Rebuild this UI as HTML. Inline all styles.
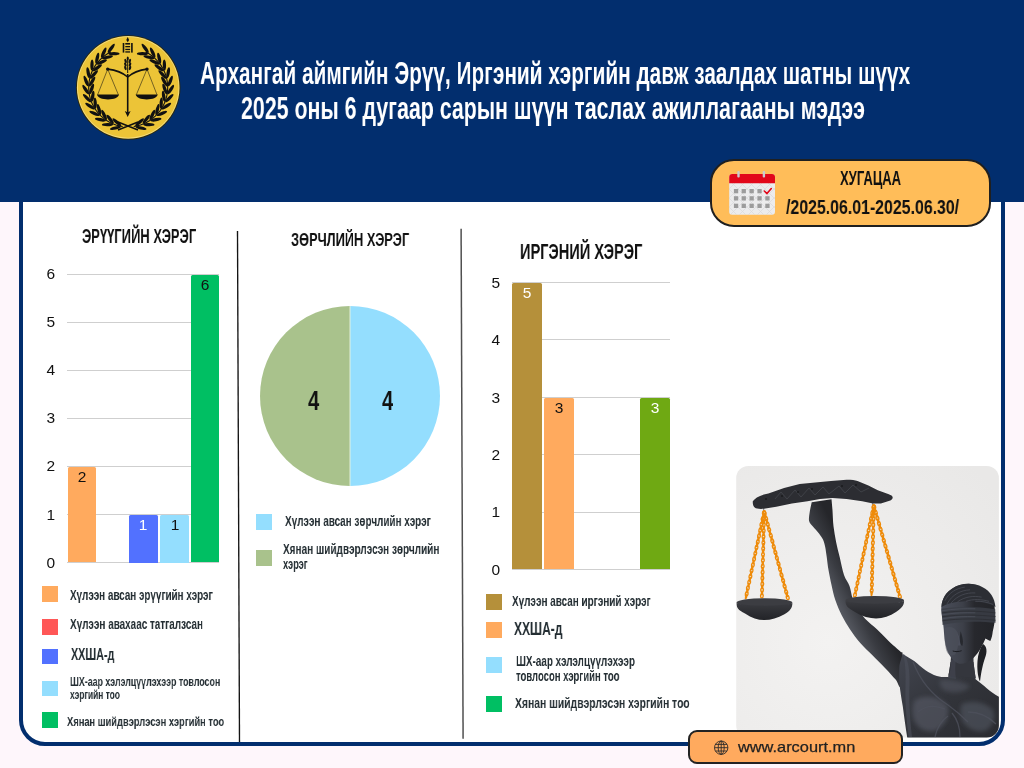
<!DOCTYPE html>
<html lang="mn">
<head>
<meta charset="utf-8">
<title>Архангай аймгийн Эрүү, Иргэний хэргийн давж заалдах шатны шүүх</title>
<style>
*{margin:0;padding:0;box-sizing:border-box}
html,body{width:1024px;height:768px;overflow:hidden}
body{position:relative;background:#fef6fb;font-family:"Liberation Sans",Arial,sans-serif;color:#2f3a40}
.a{position:absolute}
.t{position:absolute;white-space:nowrap;line-height:1;transform-origin:0 0;will-change:transform}
#panel{left:19.3px;top:150px;width:985.8px;height:595.8px;background:#fff;border:4px solid #022e6e;border-radius:26px}
#header{left:0;top:0;width:1024px;height:201.7px;background:#022e6e}
.title{color:#fff;font-size:32px;font-weight:bold}
.grid{position:absolute;height:1px;background:#cfcfcf}
.bar{position:absolute;border-radius:1.5px 1.5px 0 0}
.ax{position:absolute;font-size:15.5px;line-height:1;color:#111;text-align:right;width:20px;will-change:transform}
.bl{position:absolute;font-size:15.5px;line-height:1;text-align:center;width:30px;will-change:transform}
.sq{position:absolute;width:16px;height:16px}
.ct{font-weight:bold;color:#111}
.lg{color:#232d32;font-weight:bold}
</style>
</head>
<body>
<div id="panel" class="a"></div>
<div id="header" class="a"></div>

<!-- logo -->
<svg class="a" style="left:74px;top:33px" width="110" height="110" viewBox="74 33 110 110">
  <circle cx="128.2" cy="87.4" r="52.2" fill="#2e2806"/>
  <circle cx="128.2" cy="87.4" r="51.3" fill="#f3dc7c"/>
  <circle cx="128.2" cy="87.4" r="50.3" fill="#ecc437"/>
  <g fill="none" stroke="#111" stroke-width="1.1">
    <path d="M122.70 126.52 L119.29 125.88 L115.95 124.95 L112.70 123.73 L109.57 122.23 L106.59 120.46 L103.77 118.44 L101.14 116.17 L98.72 113.69 L96.53 111.00 L94.58 108.13 L92.89 105.10 L91.47 101.93 L90.34 98.65 L89.50 95.29 L88.95 91.86 L88.71 88.40 L88.78 84.93 L89.15 81.48 L89.82 78.07 L90.78 74.74 L92.04 71.51 L93.57 68.40 L95.37 65.43 L97.43 62.63 L99.72 60.03 L102.23 57.64 L104.94 55.47 L107.84 53.55 L110.88 51.90"/>
    <path d="M133.70 126.52 L137.11 125.88 L140.45 124.95 L143.70 123.73 L146.83 122.23 L149.81 120.46 L152.63 118.44 L155.26 116.17 L157.68 113.69 L159.87 111.00 L161.82 108.13 L163.51 105.10 L164.93 101.93 L166.06 98.65 L166.90 95.29 L167.45 91.86 L167.69 88.40 L167.62 84.93 L167.25 81.48 L166.58 78.07 L165.62 74.74 L164.36 71.51 L162.83 68.40 L161.03 65.43 L158.97 62.63 L156.68 60.03 L154.17 57.64 L151.46 55.47 L148.56 53.55 L145.52 51.90"/>
  </g>
  <g fill="#111">
    <ellipse cx="116.85" cy="122.19" rx="5.6" ry="1.65" transform="rotate(-139.4 116.85 122.19)"/><ellipse cx="115.40" cy="128.01" rx="5.6" ry="1.65" transform="rotate(167.4 115.40 128.01)"/><ellipse cx="110.09" cy="119.20" rx="5.6" ry="1.65" transform="rotate(-127.9 110.09 119.20)"/><ellipse cx="107.50" cy="124.61" rx="5.6" ry="1.65" transform="rotate(179.0 107.50 124.61)"/><ellipse cx="104.08" cy="114.92" rx="5.6" ry="1.65" transform="rotate(-116.3 104.08 114.92)"/><ellipse cx="100.45" cy="119.70" rx="5.6" ry="1.65" transform="rotate(-169.4 100.45 119.70)"/><ellipse cx="99.04" cy="109.51" rx="5.6" ry="1.65" transform="rotate(-104.7 99.04 109.51)"/><ellipse cx="94.53" cy="113.47" rx="5.6" ry="1.65" transform="rotate(-157.8 94.53 113.47)"/><ellipse cx="95.20" cy="103.21" rx="5.6" ry="1.65" transform="rotate(-93.1 95.20 103.21)"/><ellipse cx="89.98" cy="106.18" rx="5.6" ry="1.65" transform="rotate(-146.2 89.98 106.18)"/><ellipse cx="92.70" cy="96.26" rx="5.6" ry="1.65" transform="rotate(-81.5 92.70 96.26)"/><ellipse cx="86.99" cy="98.12" rx="5.6" ry="1.65" transform="rotate(-134.6 86.99 98.12)"/><ellipse cx="91.64" cy="88.95" rx="5.6" ry="1.65" transform="rotate(-69.9 91.64 88.95)"/><ellipse cx="85.68" cy="89.63" rx="5.6" ry="1.65" transform="rotate(-123.1 85.68 89.63)"/><ellipse cx="92.07" cy="81.58" rx="5.6" ry="1.65" transform="rotate(-58.4 92.07 81.58)"/><ellipse cx="86.10" cy="81.04" rx="5.6" ry="1.65" transform="rotate(-111.5 86.10 81.04)"/><ellipse cx="93.98" cy="74.44" rx="5.6" ry="1.65" transform="rotate(-46.8 93.98 74.44)"/><ellipse cx="88.23" cy="72.72" rx="5.6" ry="1.65" transform="rotate(-99.9 88.23 72.72)"/><ellipse cx="97.28" cy="67.83" rx="5.6" ry="1.65" transform="rotate(-35.2 97.28 67.83)"/><ellipse cx="91.99" cy="64.99" rx="5.6" ry="1.65" transform="rotate(-88.3 91.99 64.99)"/><ellipse cx="101.84" cy="62.02" rx="5.6" ry="1.65" transform="rotate(-23.6 101.84 62.02)"/><ellipse cx="97.23" cy="58.18" rx="5.6" ry="1.65" transform="rotate(-76.7 97.23 58.18)"/><ellipse cx="107.47" cy="57.25" rx="5.6" ry="1.65" transform="rotate(-12.0 107.47 57.25)"/><ellipse cx="103.73" cy="52.56" rx="5.6" ry="1.65" transform="rotate(-65.1 103.73 52.56)"/><ellipse cx="113.95" cy="53.70" rx="5.6" ry="1.65" transform="rotate(-0.4 113.95 53.70)"/><ellipse cx="111.22" cy="48.35" rx="5.6" ry="1.65" transform="rotate(-53.6 111.22 48.35)"/><ellipse cx="139.55" cy="122.19" rx="5.6" ry="1.65" transform="rotate(-40.6 139.55 122.19)"/><ellipse cx="141.00" cy="128.01" rx="5.6" ry="1.65" transform="rotate(12.6 141.00 128.01)"/><ellipse cx="146.31" cy="119.20" rx="5.6" ry="1.65" transform="rotate(-52.1 146.31 119.20)"/><ellipse cx="148.90" cy="124.61" rx="5.6" ry="1.65" transform="rotate(1.0 148.90 124.61)"/><ellipse cx="152.32" cy="114.92" rx="5.6" ry="1.65" transform="rotate(-63.7 152.32 114.92)"/><ellipse cx="155.95" cy="119.70" rx="5.6" ry="1.65" transform="rotate(-10.6 155.95 119.70)"/><ellipse cx="157.36" cy="109.51" rx="5.6" ry="1.65" transform="rotate(-75.3 157.36 109.51)"/><ellipse cx="161.87" cy="113.47" rx="5.6" ry="1.65" transform="rotate(-22.2 161.87 113.47)"/><ellipse cx="161.20" cy="103.21" rx="5.6" ry="1.65" transform="rotate(-86.9 161.20 103.21)"/><ellipse cx="166.42" cy="106.18" rx="5.6" ry="1.65" transform="rotate(-33.8 166.42 106.18)"/><ellipse cx="163.70" cy="96.26" rx="5.6" ry="1.65" transform="rotate(-98.5 163.70 96.26)"/><ellipse cx="169.41" cy="98.12" rx="5.6" ry="1.65" transform="rotate(-45.4 169.41 98.12)"/><ellipse cx="164.76" cy="88.95" rx="5.6" ry="1.65" transform="rotate(-110.1 164.76 88.95)"/><ellipse cx="170.72" cy="89.63" rx="5.6" ry="1.65" transform="rotate(-56.9 170.72 89.63)"/><ellipse cx="164.33" cy="81.58" rx="5.6" ry="1.65" transform="rotate(-121.6 164.33 81.58)"/><ellipse cx="170.30" cy="81.04" rx="5.6" ry="1.65" transform="rotate(-68.5 170.30 81.04)"/><ellipse cx="162.42" cy="74.44" rx="5.6" ry="1.65" transform="rotate(-133.2 162.42 74.44)"/><ellipse cx="168.17" cy="72.72" rx="5.6" ry="1.65" transform="rotate(-80.1 168.17 72.72)"/><ellipse cx="159.12" cy="67.83" rx="5.6" ry="1.65" transform="rotate(-144.8 159.12 67.83)"/><ellipse cx="164.41" cy="64.99" rx="5.6" ry="1.65" transform="rotate(-91.7 164.41 64.99)"/><ellipse cx="154.56" cy="62.02" rx="5.6" ry="1.65" transform="rotate(-156.4 154.56 62.02)"/><ellipse cx="159.17" cy="58.18" rx="5.6" ry="1.65" transform="rotate(-103.3 159.17 58.18)"/><ellipse cx="148.93" cy="57.25" rx="5.6" ry="1.65" transform="rotate(-168.0 148.93 57.25)"/><ellipse cx="152.67" cy="52.56" rx="5.6" ry="1.65" transform="rotate(-114.9 152.67 52.56)"/><ellipse cx="142.45" cy="53.70" rx="5.6" ry="1.65" transform="rotate(-179.6 142.45 53.70)"/><ellipse cx="145.18" cy="48.35" rx="5.6" ry="1.65" transform="rotate(-126.4 145.18 48.35)"/>
  </g>
  <!-- crossing stems at bottom -->
  <path d="M118 130 L138 122 M138 130 L118 122" stroke="#111" stroke-width="1.6"/>
  <!-- soyombo -->
  <g fill="#111">
    <path d="M127.7 37 l1.4 3 l-1.4 2.2 l-1.4 -2.2 z"/>
    <rect x="125.3" y="43" width="4.8" height="1.6"/>
    <rect x="122.7" y="43" width="1.6" height="9.6"/>
    <rect x="131.1" y="43" width="1.6" height="9.6"/>
    <rect x="125.3" y="46" width="4.8" height="1.3"/>
    <rect x="125.3" y="48.8" width="4.8" height="1.3"/>
    <rect x="125.3" y="51.3" width="4.8" height="1.3"/>
  </g>
  <!-- wheat -->
  <g fill="#111">
    <path d="M127.7 57 L127.7 73" stroke="#111" stroke-width="1"/>
    <ellipse cx="125.6" cy="61" rx="1.1" ry="2.2" transform="rotate(-20 125.6 61)"/>
    <ellipse cx="129.8" cy="61" rx="1.1" ry="2.2" transform="rotate(20 129.8 61)"/>
    <ellipse cx="125.4" cy="64.5" rx="1.1" ry="2.2" transform="rotate(-20 125.4 64.5)"/>
    <ellipse cx="130" cy="64.5" rx="1.1" ry="2.2" transform="rotate(20 130 64.5)"/>
    <ellipse cx="125.4" cy="68" rx="1.1" ry="2.2" transform="rotate(-20 125.4 68)"/>
    <ellipse cx="130" cy="68" rx="1.1" ry="2.2" transform="rotate(20 130 68)"/>
    <ellipse cx="127.7" cy="58.6" rx="1" ry="2"/>
  </g>
  <!-- scales -->
  <g stroke="#111" fill="none">
    <path d="M107.7 69.1 C115 70 122 72 127.7 77 C133.4 72 140 70 147 69.1" stroke-width="1.6"/>
    <path d="M127.7 74 L127.7 113" stroke-width="1.6"/>
    <path d="M107.7 69.1 L97.6 94.8 M107.7 69.1 L118.4 94.8 M147 69.1 L136.3 94.8 M147 69.1 L157 94.8" stroke-width="0.55"/>
  </g>
  <g fill="#111">
    <circle cx="107.7" cy="69.1" r="1.7"/>
    <circle cx="147" cy="69.1" r="1.7"/>
    <path d="M124.8 111 L127.7 117 L130.6 111 L127.7 112.5 Z"/>
    <path d="M97 94.6 L119 94.6 C118 98 114 99.4 108 99.4 C102 99.4 98 98 97 94.6 Z"/>
    <path d="M135.7 94.6 L157.7 94.6 C156.7 98 152.7 99.4 146.7 99.4 C140.7 99.4 136.7 98 135.7 94.6 Z"/>
  </g>
</svg>

<div class="t title" id="t1" style="left:200.10px;top:56.60px;font-size:32.12px;transform:scaleX(0.6480)">Архангай аймгийн Эрүү, Иргэний хэргийн давж заалдах шатны шүүх</div>
<div class="t title" id="t2" style="left:241.43px;top:92.14px;font-size:32.07px;transform:scaleX(0.6663)">2025 оны 6 дугаар сарын шүүн таслах ажиллагааны мэдээ</div>

<!-- period pill -->
<div class="a" style="left:710.3px;top:159.2px;width:281px;height:67.4px;background:#ffbd59;border:2.2px solid #1f1f1f;border-radius:24px"></div>

<!-- calendar icon -->
<svg class="a" style="left:728px;top:170px" width="49" height="47" viewBox="728 170 49 47">
  <defs>
    <pattern id="diam" x="0" y="0" width="9" height="9" patternUnits="userSpaceOnUse">
      <path d="M0 0 L9 9 M9 0 L0 9" stroke="#d6d6d8" stroke-width="0.6"/>
    </pattern>
  </defs>
  <rect x="729.2" y="174" width="45.8" height="40.8" rx="3" fill="#ececed"/>
  <rect x="729.2" y="174" width="45.8" height="40.8" rx="3" fill="url(#diam)"/>
  <path d="M729.2 183.3 V177 a3 3 0 0 1 3 -3 H772 a3 3 0 0 1 3 3 V183.3 Z" fill="#e2071a"/>
  <rect x="737.3" y="171" width="2.4" height="6.5" rx="1" fill="#c9cbcf"/>
  <rect x="762.7" y="171" width="2.4" height="6.5" rx="1" fill="#c9cbcf"/>
  <g fill="#9c9c9c">
    <rect x="733.9" y="189" width="4.3" height="4.3"/><rect x="741.6" y="189" width="4.3" height="4.3"/><rect x="749.5" y="189" width="4.3" height="4.3"/><rect x="757.4" y="189" width="4.3" height="4.3"/>
    <rect x="733.9" y="196.2" width="4.3" height="4.3"/><rect x="741.6" y="196.2" width="4.3" height="4.3"/><rect x="749.5" y="196.2" width="4.3" height="4.3"/><rect x="757.4" y="196.2" width="4.3" height="4.3"/><rect x="765.3" y="196.2" width="4.3" height="4.3"/>
    <rect x="733.9" y="203.7" width="4.3" height="4.3"/><rect x="741.6" y="203.7" width="4.3" height="4.3"/><rect x="749.5" y="203.7" width="4.3" height="4.3"/><rect x="757.4" y="203.7" width="4.3" height="4.3"/><rect x="765.3" y="203.7" width="4.3" height="4.3"/>
  </g>
  <path d="M764.3 191 L767 193.6 L771.3 188.6" fill="none" stroke="#e2071a" stroke-width="1.6" stroke-linecap="round" stroke-linejoin="round"/>
</svg>
<div class="t ct" id="t6" style="left:840.40px;top:168.32px;font-size:20.76px;transform:scaleX(0.6278)">ХУГАЦАА</div>
<div class="t ct" id="t7" style="left:786.30px;top:197.33px;font-size:20.63px;transform:scaleX(0.7701)">/2025.06.01-2025.06.30/</div>

<!-- dividers -->
<svg class="a" style="left:0;top:0" width="1024" height="768" viewBox="0 0 1024 768">
  <line x1="237.5" y1="231" x2="239.5" y2="742" stroke="#141414" stroke-width="1.35"/>
  <line x1="461.1" y1="228.8" x2="463.1" y2="738.8" stroke="#505050" stroke-width="1.5"/>
</svg>

<!-- chart titles -->
<div class="t ct" id="t3" style="left:82.20px;top:227.19px;font-size:19.50px;transform:scaleX(0.6653)">ЭРҮҮГИЙН ХЭРЭГ</div>
<div class="t ct" id="t4" style="left:290.90px;top:230.43px;font-size:19.22px;transform:scaleX(0.6683)">ЗӨРЧЛИЙН ХЭРЭГ</div>
<div class="t ct" id="t5" style="left:520.24px;top:240.94px;font-size:22.16px;transform:scaleX(0.6575)">ИРГЭНИЙ ХЭРЭГ</div>


<!-- charts -->
<div class="grid" style="left:67.4px;top:273.9px;width:152.1px"></div>
<div class="ax" style="left:34.6px;top:266.44px">6</div>
<div class="grid" style="left:67.4px;top:321.9px;width:152.1px"></div>
<div class="ax" style="left:34.6px;top:314.44px">5</div>
<div class="grid" style="left:67.4px;top:369.9px;width:152.1px"></div>
<div class="ax" style="left:34.6px;top:362.44px">4</div>
<div class="grid" style="left:67.4px;top:417.9px;width:152.1px"></div>
<div class="ax" style="left:34.6px;top:410.44px">3</div>
<div class="grid" style="left:67.4px;top:465.9px;width:152.1px"></div>
<div class="ax" style="left:34.6px;top:458.44px">2</div>
<div class="grid" style="left:67.4px;top:514.0px;width:152.1px"></div>
<div class="ax" style="left:34.6px;top:506.54px">1</div>
<div class="grid" style="left:67.4px;top:562.0px;width:152.1px"></div>
<div class="ax" style="left:34.6px;top:554.54px">0</div>
<div class="bar" style="left:67.5px;top:466.6px;width:28.6px;height:95.9px;background:#ffaa5e"></div>
<div class="bl" style="left:66.8px;top:469.20px;color:#111">2</div>
<div class="bar" style="left:129.1px;top:514.5px;width:28.7px;height:48.0px;background:#5271ff"></div>
<div class="bl" style="left:128.4px;top:517.10px;color:#fff">1</div>
<div class="bar" style="left:160px;top:514.5px;width:29.0px;height:48.0px;background:#94defe"></div>
<div class="bl" style="left:159.5px;top:517.10px;color:#111">1</div>
<div class="bar" style="left:190.6px;top:274.6px;width:28.9px;height:287.9px;background:#00bf63"></div>
<div class="bl" style="left:190.1px;top:277.20px;color:#111">6</div>
<div class="grid" style="left:512px;top:282.1px;width:158.3px"></div>
<div class="ax" style="left:480px;top:274.80px">5</div>
<div class="grid" style="left:512px;top:339.4px;width:158.3px"></div>
<div class="ax" style="left:480px;top:332.10px">4</div>
<div class="grid" style="left:512px;top:396.8px;width:158.3px"></div>
<div class="ax" style="left:480px;top:389.50px">3</div>
<div class="grid" style="left:512px;top:454.1px;width:158.3px"></div>
<div class="ax" style="left:480px;top:446.80px">2</div>
<div class="grid" style="left:512px;top:511.5px;width:158.3px"></div>
<div class="ax" style="left:480px;top:504.20px">1</div>
<div class="grid" style="left:512px;top:568.8px;width:158.3px"></div>
<div class="ax" style="left:480px;top:561.50px">0</div>
<div class="bar" style="left:512.2px;top:282.6px;width:29.7px;height:286.7px;background:#b5903a"></div>
<div class="bl" style="left:512.0px;top:285.20px;color:#fff">5</div>
<div class="bar" style="left:544.2px;top:397.6px;width:29.7px;height:171.7px;background:#ffaa5e"></div>
<div class="bl" style="left:544.0px;top:400.20px;color:#111">3</div>
<div class="bar" style="left:640.4px;top:397.6px;width:29.9px;height:171.7px;background:#6fa913"></div>
<div class="bl" style="left:640.3px;top:400.20px;color:#fff">3</div>

<!-- pie -->
<svg class="a" style="left:258px;top:304px" width="184" height="184" viewBox="0 0 184 184">
  <path d="M92 2 A90 90 0 0 0 92 182 Z" fill="#a9c28c"/>
  <path d="M92 2 A90 90 0 0 1 92 182 Z" fill="#94defe"/>
  <path d="M92 2 V182" stroke="#e8f4e0" stroke-width="0.9"/>
</svg>
<div class="t ct" id="p1" style="left:307.60px;top:386.55px;font-size:27.22px;transform:scaleX(0.7467)">4</div>
<div class="t ct" id="p2" style="left:381.90px;top:386.55px;font-size:27.22px;transform:scaleX(0.7400)">4</div>

<!-- legends left -->
<div class="sq" style="left:42px;top:586px;width:15.5px;height:15.5px;background:#ffaa5e"></div>
<div class="sq" style="left:42px;top:619px;width:15.5px;height:15.5px;background:#ff5757"></div>
<div class="sq" style="left:42px;top:648.5px;width:15.5px;height:15.5px;background:#5271ff"></div>
<div class="sq" style="left:42px;top:680.7px;width:15.5px;height:15.5px;background:#94defe"></div>
<div class="sq" style="left:42px;top:712.3px;width:15.5px;height:15.5px;background:#00bf63"></div>
<div class="t lg" id="l1" style="left:69.60px;top:586.97px;font-size:15.15px;transform:scaleX(0.6508)">Хүлээн авсан эрүүгийн хэрэг</div>
<div class="t lg" id="l2" style="left:69.60px;top:617.01px;font-size:14.87px;transform:scaleX(0.6674)">Хүлээн авахаас татгалзсан</div>
<div class="t lg" id="l3" style="left:71.00px;top:646.02px;font-size:16.27px;transform:scaleX(0.6616)">ХХША-д</div>
<div class="t lg" id="l4a" style="left:70.00px;top:675.70px;font-size:12.69px;transform:scaleX(0.6966)">ШХ-аар хэлэлцүүлэхээр товлосон</div>
<div class="t lg" id="l4b" style="left:70.00px;top:688.95px;font-size:12.69px;transform:scaleX(0.6635)">хэргийн тоо</div>
<div class="t lg" id="l5" style="left:67.20px;top:715.22px;font-size:13.32px;transform:scaleX(0.7012)">Хянан шийдвэрлэсэн хэргийн тоо</div>

<!-- legends center -->
<div class="sq" style="left:255.7px;top:514.1px;background:#94defe"></div>
<div class="sq" style="left:255.7px;top:549.6px;background:#a9c28c"></div>
<div class="t lg" id="c1" style="left:284.90px;top:514.31px;font-size:14.87px;transform:scaleX(0.6681)">Хүлээн авсан зөрчлийн хэрэг</div>
<div class="t lg" id="c2a" style="left:282.90px;top:542.27px;font-size:14.80px;transform:scaleX(0.6751)">Хянан шийдвэрлэсэн зөрчлийн</div>
<div class="t lg" id="c2b" style="left:282.90px;top:556.67px;font-size:14.80px;transform:scaleX(0.6247)">хэрэг</div>

<!-- legends right -->
<div class="sq" style="left:486.1px;top:594.2px;background:#b5903a"></div>
<div class="sq" style="left:486.1px;top:622px;background:#ffaa5e"></div>
<div class="sq" style="left:486.1px;top:657.1px;background:#94defe"></div>
<div class="sq" style="left:486.1px;top:695.7px;background:#00bf63"></div>
<div class="t lg" id="r1" style="left:512.10px;top:594.25px;font-size:14.59px;transform:scaleX(0.6811)">Хүлээн авсан иргэний хэрэг</div>
<div class="t lg" id="r2" style="left:514.00px;top:620.86px;font-size:17.53px;transform:scaleX(0.6856)">ХХША-д</div>
<div class="t lg" id="r3a" style="left:515.90px;top:654.43px;font-size:14.73px;transform:scaleX(0.6713)">ШХ-аар хэлэлцүүлэхээр</div>
<div class="t lg" id="r3b" style="left:515.90px;top:669.43px;font-size:14.73px;transform:scaleX(0.6457)">товлосон хэргийн тоо</div>
<div class="t lg" id="r4" style="left:514.50px;top:696.03px;font-size:14.73px;transform:scaleX(0.7048)">Хянан шийдвэрлэсэн хэргийн тоо</div>


<!-- statue photo -->
<svg class="a" style="left:736px;top:466px" width="263" height="272" viewBox="736 466 263 272">
  <defs>
    <filter id="soft" x="-20%" y="-20%" width="140%" height="140%"><feGaussianBlur stdDeviation="2.2"/></filter>
    <clipPath id="pc"><rect x="736.2" y="466.1" width="262.7" height="271.4" rx="12" ry="12"/></clipPath>
    <radialGradient id="bgg" cx="0.35" cy="0.65" r="0.85">
      <stop offset="0" stop-color="#f3f2f1"/>
      <stop offset="1" stop-color="#e9e8e7"/>
    </radialGradient>
    <linearGradient id="armg" x1="0" y1="1" x2="1" y2="0">
      <stop offset="0.36" stop-color="#575a62"/>
      <stop offset="0.46" stop-color="#3a3c42"/>
      <stop offset="0.56" stop-color="#25262a"/>
    </linearGradient>
    <linearGradient id="pang" x1="0" y1="0" x2="0" y2="1">
      <stop offset="0" stop-color="#3a3b40"/>
      <stop offset="1" stop-color="#222327"/>
    </linearGradient>
    <linearGradient id="faceg" x1="0" y1="0" x2="1" y2="0">
      <stop offset="0" stop-color="#4a4e5a"/>
      <stop offset="0.4" stop-color="#3d4049"/>
      <stop offset="0.62" stop-color="#27282d"/>
      <stop offset="1" stop-color="#232428"/>
    </linearGradient>
    <linearGradient id="torg" x1="0" y1="0" x2="1" y2="1">
      <stop offset="0" stop-color="#42454f"/>
      <stop offset="0.5" stop-color="#32343a"/>
      <stop offset="1" stop-color="#2a2b30"/>
    </linearGradient>
  </defs>
  <g clip-path="url(#pc)">
    <rect x="736" y="466" width="263" height="272" fill="url(#bgg)"/>
    <!-- hooks -->
    <path d="M763.6 500 V512.5 M872.6 496 V507" stroke="#8d8f93" stroke-width="1.3" fill="none"/>
    <!-- chains -->
    <g fill="none" stroke="#ee8b0a" stroke-width="1.35">
      <ellipse cx="763.9" cy="512.9" rx="2.1" ry="1.35" transform="rotate(102 763.9 512.9)"/>
      <ellipse cx="763.3" cy="515.8" rx="2.0" ry="0.55" transform="rotate(102 763.3 515.8)"/>
      <ellipse cx="762.7" cy="518.7" rx="2.1" ry="1.35" transform="rotate(102 762.7 518.7)"/>
      <ellipse cx="762.1" cy="521.6" rx="2.0" ry="0.55" transform="rotate(102 762.1 521.6)"/>
      <ellipse cx="761.4" cy="524.5" rx="2.1" ry="1.35" transform="rotate(102 761.4 524.5)"/>
      <ellipse cx="760.8" cy="527.4" rx="2.0" ry="0.55" transform="rotate(102 760.8 527.4)"/>
      <ellipse cx="760.2" cy="530.3" rx="2.1" ry="1.35" transform="rotate(102 760.2 530.3)"/>
      <ellipse cx="759.6" cy="533.1" rx="2.0" ry="0.55" transform="rotate(102 759.6 533.1)"/>
      <ellipse cx="759.0" cy="536.0" rx="2.1" ry="1.35" transform="rotate(102 759.0 536.0)"/>
      <ellipse cx="758.4" cy="538.9" rx="2.0" ry="0.55" transform="rotate(102 758.4 538.9)"/>
      <ellipse cx="757.8" cy="541.8" rx="2.1" ry="1.35" transform="rotate(102 757.8 541.8)"/>
      <ellipse cx="757.1" cy="544.7" rx="2.0" ry="0.55" transform="rotate(102 757.1 544.7)"/>
      <ellipse cx="756.5" cy="547.6" rx="2.1" ry="1.35" transform="rotate(102 756.5 547.6)"/>
      <ellipse cx="755.9" cy="550.5" rx="2.0" ry="0.55" transform="rotate(102 755.9 550.5)"/>
      <ellipse cx="755.3" cy="553.4" rx="2.1" ry="1.35" transform="rotate(102 755.3 553.4)"/>
      <ellipse cx="754.7" cy="556.2" rx="2.0" ry="0.55" transform="rotate(102 754.7 556.2)"/>
      <ellipse cx="754.1" cy="559.1" rx="2.1" ry="1.35" transform="rotate(102 754.1 559.1)"/>
      <ellipse cx="753.5" cy="562.0" rx="2.0" ry="0.55" transform="rotate(102 753.5 562.0)"/>
      <ellipse cx="752.9" cy="564.9" rx="2.1" ry="1.35" transform="rotate(102 752.9 564.9)"/>
      <ellipse cx="752.2" cy="567.8" rx="2.0" ry="0.55" transform="rotate(102 752.2 567.8)"/>
      <ellipse cx="751.6" cy="570.7" rx="2.1" ry="1.35" transform="rotate(102 751.6 570.7)"/>
      <ellipse cx="751.0" cy="573.6" rx="2.0" ry="0.55" transform="rotate(102 751.0 573.6)"/>
      <ellipse cx="750.4" cy="576.5" rx="2.1" ry="1.35" transform="rotate(102 750.4 576.5)"/>
      <ellipse cx="749.8" cy="579.3" rx="2.0" ry="0.55" transform="rotate(102 749.8 579.3)"/>
      <ellipse cx="749.2" cy="582.2" rx="2.1" ry="1.35" transform="rotate(102 749.2 582.2)"/>
      <ellipse cx="748.6" cy="585.1" rx="2.0" ry="0.55" transform="rotate(102 748.6 585.1)"/>
      <ellipse cx="747.9" cy="588.0" rx="2.1" ry="1.35" transform="rotate(102 747.9 588.0)"/>
      <ellipse cx="747.3" cy="590.9" rx="2.0" ry="0.55" transform="rotate(102 747.3 590.9)"/>
      <ellipse cx="746.7" cy="593.8" rx="2.1" ry="1.35" transform="rotate(102 746.7 593.8)"/>
      <ellipse cx="746.1" cy="596.7" rx="2.0" ry="0.55" transform="rotate(102 746.1 596.7)"/>
      <ellipse cx="764.2" cy="513.0" rx="2.1" ry="1.35" transform="rotate(92 764.2 513.0)"/>
      <ellipse cx="764.1" cy="515.9" rx="2.0" ry="0.55" transform="rotate(92 764.1 515.9)"/>
      <ellipse cx="764.0" cy="518.9" rx="2.1" ry="1.35" transform="rotate(92 764.0 518.9)"/>
      <ellipse cx="763.9" cy="521.9" rx="2.0" ry="0.55" transform="rotate(92 763.9 521.9)"/>
      <ellipse cx="763.8" cy="524.8" rx="2.1" ry="1.35" transform="rotate(92 763.8 524.8)"/>
      <ellipse cx="763.8" cy="527.8" rx="2.0" ry="0.55" transform="rotate(92 763.8 527.8)"/>
      <ellipse cx="763.7" cy="530.7" rx="2.1" ry="1.35" transform="rotate(92 763.7 530.7)"/>
      <ellipse cx="763.6" cy="533.7" rx="2.0" ry="0.55" transform="rotate(92 763.6 533.7)"/>
      <ellipse cx="763.5" cy="536.6" rx="2.1" ry="1.35" transform="rotate(92 763.5 536.6)"/>
      <ellipse cx="763.4" cy="539.6" rx="2.0" ry="0.55" transform="rotate(92 763.4 539.6)"/>
      <ellipse cx="763.4" cy="542.6" rx="2.1" ry="1.35" transform="rotate(92 763.4 542.6)"/>
      <ellipse cx="763.3" cy="545.5" rx="2.0" ry="0.55" transform="rotate(92 763.3 545.5)"/>
      <ellipse cx="763.2" cy="548.5" rx="2.1" ry="1.35" transform="rotate(92 763.2 548.5)"/>
      <ellipse cx="763.1" cy="551.4" rx="2.0" ry="0.55" transform="rotate(92 763.1 551.4)"/>
      <ellipse cx="763.0" cy="554.4" rx="2.1" ry="1.35" transform="rotate(92 763.0 554.4)"/>
      <ellipse cx="763.0" cy="557.4" rx="2.0" ry="0.55" transform="rotate(92 763.0 557.4)"/>
      <ellipse cx="762.9" cy="560.3" rx="2.1" ry="1.35" transform="rotate(92 762.9 560.3)"/>
      <ellipse cx="762.8" cy="563.3" rx="2.0" ry="0.55" transform="rotate(92 762.8 563.3)"/>
      <ellipse cx="762.7" cy="566.2" rx="2.1" ry="1.35" transform="rotate(92 762.7 566.2)"/>
      <ellipse cx="762.7" cy="569.2" rx="2.0" ry="0.55" transform="rotate(92 762.7 569.2)"/>
      <ellipse cx="762.6" cy="572.2" rx="2.1" ry="1.35" transform="rotate(92 762.6 572.2)"/>
      <ellipse cx="762.5" cy="575.1" rx="2.0" ry="0.55" transform="rotate(92 762.5 575.1)"/>
      <ellipse cx="762.4" cy="578.1" rx="2.1" ry="1.35" transform="rotate(92 762.4 578.1)"/>
      <ellipse cx="762.3" cy="581.0" rx="2.0" ry="0.55" transform="rotate(92 762.3 581.0)"/>
      <ellipse cx="762.3" cy="584.0" rx="2.1" ry="1.35" transform="rotate(92 762.3 584.0)"/>
      <ellipse cx="762.2" cy="586.9" rx="2.0" ry="0.55" transform="rotate(92 762.2 586.9)"/>
      <ellipse cx="762.1" cy="589.9" rx="2.1" ry="1.35" transform="rotate(92 762.1 589.9)"/>
      <ellipse cx="762.0" cy="592.9" rx="2.0" ry="0.55" transform="rotate(92 762.0 592.9)"/>
      <ellipse cx="761.9" cy="595.8" rx="2.1" ry="1.35" transform="rotate(92 761.9 595.8)"/>
      <ellipse cx="764.6" cy="512.9" rx="2.1" ry="1.35" transform="rotate(75 764.6 512.9)"/>
      <ellipse cx="765.4" cy="515.7" rx="2.0" ry="0.55" transform="rotate(75 765.4 515.7)"/>
      <ellipse cx="766.1" cy="518.5" rx="2.1" ry="1.35" transform="rotate(75 766.1 518.5)"/>
      <ellipse cx="766.9" cy="521.4" rx="2.0" ry="0.55" transform="rotate(75 766.9 521.4)"/>
      <ellipse cx="767.7" cy="524.2" rx="2.1" ry="1.35" transform="rotate(75 767.7 524.2)"/>
      <ellipse cx="768.4" cy="527.0" rx="2.0" ry="0.55" transform="rotate(75 768.4 527.0)"/>
      <ellipse cx="769.2" cy="529.8" rx="2.1" ry="1.35" transform="rotate(75 769.2 529.8)"/>
      <ellipse cx="770.0" cy="532.6" rx="2.0" ry="0.55" transform="rotate(75 770.0 532.6)"/>
      <ellipse cx="770.8" cy="535.5" rx="2.1" ry="1.35" transform="rotate(75 770.8 535.5)"/>
      <ellipse cx="771.5" cy="538.3" rx="2.0" ry="0.55" transform="rotate(75 771.5 538.3)"/>
      <ellipse cx="772.3" cy="541.1" rx="2.1" ry="1.35" transform="rotate(75 772.3 541.1)"/>
      <ellipse cx="773.1" cy="543.9" rx="2.0" ry="0.55" transform="rotate(75 773.1 543.9)"/>
      <ellipse cx="773.8" cy="546.7" rx="2.1" ry="1.35" transform="rotate(75 773.8 546.7)"/>
      <ellipse cx="774.6" cy="549.6" rx="2.0" ry="0.55" transform="rotate(75 774.6 549.6)"/>
      <ellipse cx="775.4" cy="552.4" rx="2.1" ry="1.35" transform="rotate(75 775.4 552.4)"/>
      <ellipse cx="776.2" cy="555.2" rx="2.0" ry="0.55" transform="rotate(75 776.2 555.2)"/>
      <ellipse cx="776.9" cy="558.0" rx="2.1" ry="1.35" transform="rotate(75 776.9 558.0)"/>
      <ellipse cx="777.7" cy="560.8" rx="2.0" ry="0.55" transform="rotate(75 777.7 560.8)"/>
      <ellipse cx="778.5" cy="563.7" rx="2.1" ry="1.35" transform="rotate(75 778.5 563.7)"/>
      <ellipse cx="779.2" cy="566.5" rx="2.0" ry="0.55" transform="rotate(75 779.2 566.5)"/>
      <ellipse cx="780.0" cy="569.3" rx="2.1" ry="1.35" transform="rotate(75 780.0 569.3)"/>
      <ellipse cx="780.8" cy="572.1" rx="2.0" ry="0.55" transform="rotate(75 780.8 572.1)"/>
      <ellipse cx="781.5" cy="574.9" rx="2.1" ry="1.35" transform="rotate(75 781.5 574.9)"/>
      <ellipse cx="782.3" cy="577.8" rx="2.0" ry="0.55" transform="rotate(75 782.3 577.8)"/>
      <ellipse cx="783.1" cy="580.6" rx="2.1" ry="1.35" transform="rotate(75 783.1 580.6)"/>
      <ellipse cx="783.9" cy="583.4" rx="2.0" ry="0.55" transform="rotate(75 783.9 583.4)"/>
      <ellipse cx="784.6" cy="586.2" rx="2.1" ry="1.35" transform="rotate(75 784.6 586.2)"/>
      <ellipse cx="785.4" cy="589.0" rx="2.0" ry="0.55" transform="rotate(75 785.4 589.0)"/>
      <ellipse cx="786.2" cy="591.9" rx="2.1" ry="1.35" transform="rotate(75 786.2 591.9)"/>
      <ellipse cx="786.9" cy="594.7" rx="2.0" ry="0.55" transform="rotate(75 786.9 594.7)"/>
      <ellipse cx="787.7" cy="597.5" rx="2.1" ry="1.35" transform="rotate(75 787.7 597.5)"/>
      <ellipse cx="873.5" cy="507.0" rx="2.1" ry="1.35" transform="rotate(102 873.5 507.0)"/>
      <ellipse cx="872.9" cy="509.9" rx="2.0" ry="0.55" transform="rotate(102 872.9 509.9)"/>
      <ellipse cx="872.3" cy="512.8" rx="2.1" ry="1.35" transform="rotate(102 872.3 512.8)"/>
      <ellipse cx="871.6" cy="515.8" rx="2.0" ry="0.55" transform="rotate(102 871.6 515.8)"/>
      <ellipse cx="871.0" cy="518.7" rx="2.1" ry="1.35" transform="rotate(102 871.0 518.7)"/>
      <ellipse cx="870.4" cy="521.6" rx="2.0" ry="0.55" transform="rotate(102 870.4 521.6)"/>
      <ellipse cx="869.8" cy="524.5" rx="2.1" ry="1.35" transform="rotate(102 869.8 524.5)"/>
      <ellipse cx="869.2" cy="527.5" rx="2.0" ry="0.55" transform="rotate(102 869.2 527.5)"/>
      <ellipse cx="868.6" cy="530.4" rx="2.1" ry="1.35" transform="rotate(102 868.6 530.4)"/>
      <ellipse cx="867.9" cy="533.3" rx="2.0" ry="0.55" transform="rotate(102 867.9 533.3)"/>
      <ellipse cx="867.3" cy="536.3" rx="2.1" ry="1.35" transform="rotate(102 867.3 536.3)"/>
      <ellipse cx="866.7" cy="539.2" rx="2.0" ry="0.55" transform="rotate(102 866.7 539.2)"/>
      <ellipse cx="866.1" cy="542.1" rx="2.1" ry="1.35" transform="rotate(102 866.1 542.1)"/>
      <ellipse cx="865.5" cy="545.0" rx="2.0" ry="0.55" transform="rotate(102 865.5 545.0)"/>
      <ellipse cx="864.9" cy="548.0" rx="2.1" ry="1.35" transform="rotate(102 864.9 548.0)"/>
      <ellipse cx="864.2" cy="550.9" rx="2.0" ry="0.55" transform="rotate(102 864.2 550.9)"/>
      <ellipse cx="863.6" cy="553.8" rx="2.1" ry="1.35" transform="rotate(102 863.6 553.8)"/>
      <ellipse cx="863.0" cy="556.8" rx="2.0" ry="0.55" transform="rotate(102 863.0 556.8)"/>
      <ellipse cx="862.4" cy="559.7" rx="2.1" ry="1.35" transform="rotate(102 862.4 559.7)"/>
      <ellipse cx="861.8" cy="562.6" rx="2.0" ry="0.55" transform="rotate(102 861.8 562.6)"/>
      <ellipse cx="861.2" cy="565.5" rx="2.1" ry="1.35" transform="rotate(102 861.2 565.5)"/>
      <ellipse cx="860.6" cy="568.5" rx="2.0" ry="0.55" transform="rotate(102 860.6 568.5)"/>
      <ellipse cx="859.9" cy="571.4" rx="2.1" ry="1.35" transform="rotate(102 859.9 571.4)"/>
      <ellipse cx="859.3" cy="574.3" rx="2.0" ry="0.55" transform="rotate(102 859.3 574.3)"/>
      <ellipse cx="858.7" cy="577.3" rx="2.1" ry="1.35" transform="rotate(102 858.7 577.3)"/>
      <ellipse cx="858.1" cy="580.2" rx="2.0" ry="0.55" transform="rotate(102 858.1 580.2)"/>
      <ellipse cx="857.5" cy="583.1" rx="2.1" ry="1.35" transform="rotate(102 857.5 583.1)"/>
      <ellipse cx="856.9" cy="586.0" rx="2.0" ry="0.55" transform="rotate(102 856.9 586.0)"/>
      <ellipse cx="856.2" cy="589.0" rx="2.1" ry="1.35" transform="rotate(102 856.2 589.0)"/>
      <ellipse cx="855.6" cy="591.9" rx="2.0" ry="0.55" transform="rotate(102 855.6 591.9)"/>
      <ellipse cx="855.0" cy="594.8" rx="2.1" ry="1.35" transform="rotate(102 855.0 594.8)"/>
      <ellipse cx="873.8" cy="507.0" rx="2.1" ry="1.35" transform="rotate(91 873.8 507.0)"/>
      <ellipse cx="873.7" cy="510.0" rx="2.0" ry="0.55" transform="rotate(91 873.7 510.0)"/>
      <ellipse cx="873.6" cy="513.0" rx="2.1" ry="1.35" transform="rotate(91 873.6 513.0)"/>
      <ellipse cx="873.5" cy="515.9" rx="2.0" ry="0.55" transform="rotate(91 873.5 515.9)"/>
      <ellipse cx="873.5" cy="518.9" rx="2.1" ry="1.35" transform="rotate(91 873.5 518.9)"/>
      <ellipse cx="873.4" cy="521.9" rx="2.0" ry="0.55" transform="rotate(91 873.4 521.9)"/>
      <ellipse cx="873.3" cy="524.9" rx="2.1" ry="1.35" transform="rotate(91 873.3 524.9)"/>
      <ellipse cx="873.2" cy="527.9" rx="2.0" ry="0.55" transform="rotate(91 873.2 527.9)"/>
      <ellipse cx="873.2" cy="530.9" rx="2.1" ry="1.35" transform="rotate(91 873.2 530.9)"/>
      <ellipse cx="873.1" cy="533.8" rx="2.0" ry="0.55" transform="rotate(91 873.1 533.8)"/>
      <ellipse cx="873.0" cy="536.8" rx="2.1" ry="1.35" transform="rotate(91 873.0 536.8)"/>
      <ellipse cx="873.0" cy="539.8" rx="2.0" ry="0.55" transform="rotate(91 873.0 539.8)"/>
      <ellipse cx="872.9" cy="542.8" rx="2.1" ry="1.35" transform="rotate(91 872.9 542.8)"/>
      <ellipse cx="872.8" cy="545.8" rx="2.0" ry="0.55" transform="rotate(91 872.8 545.8)"/>
      <ellipse cx="872.7" cy="548.8" rx="2.1" ry="1.35" transform="rotate(91 872.7 548.8)"/>
      <ellipse cx="872.7" cy="551.7" rx="2.0" ry="0.55" transform="rotate(91 872.7 551.7)"/>
      <ellipse cx="872.6" cy="554.7" rx="2.1" ry="1.35" transform="rotate(91 872.6 554.7)"/>
      <ellipse cx="872.5" cy="557.7" rx="2.0" ry="0.55" transform="rotate(91 872.5 557.7)"/>
      <ellipse cx="872.4" cy="560.7" rx="2.1" ry="1.35" transform="rotate(91 872.4 560.7)"/>
      <ellipse cx="872.4" cy="563.7" rx="2.0" ry="0.55" transform="rotate(91 872.4 563.7)"/>
      <ellipse cx="872.3" cy="566.7" rx="2.1" ry="1.35" transform="rotate(91 872.3 566.7)"/>
      <ellipse cx="872.2" cy="569.6" rx="2.0" ry="0.55" transform="rotate(91 872.2 569.6)"/>
      <ellipse cx="872.1" cy="572.6" rx="2.1" ry="1.35" transform="rotate(91 872.1 572.6)"/>
      <ellipse cx="872.1" cy="575.6" rx="2.0" ry="0.55" transform="rotate(91 872.1 575.6)"/>
      <ellipse cx="872.0" cy="578.6" rx="2.1" ry="1.35" transform="rotate(91 872.0 578.6)"/>
      <ellipse cx="871.9" cy="581.6" rx="2.0" ry="0.55" transform="rotate(91 871.9 581.6)"/>
      <ellipse cx="871.9" cy="584.6" rx="2.1" ry="1.35" transform="rotate(91 871.9 584.6)"/>
      <ellipse cx="871.8" cy="587.5" rx="2.0" ry="0.55" transform="rotate(91 871.8 587.5)"/>
      <ellipse cx="871.7" cy="590.5" rx="2.1" ry="1.35" transform="rotate(91 871.7 590.5)"/>
      <ellipse cx="871.6" cy="593.5" rx="2.0" ry="0.55" transform="rotate(91 871.6 593.5)"/>
      <ellipse cx="874.2" cy="506.9" rx="2.1" ry="1.35" transform="rotate(74 874.2 506.9)"/>
      <ellipse cx="875.0" cy="509.7" rx="2.0" ry="0.55" transform="rotate(74 875.0 509.7)"/>
      <ellipse cx="875.8" cy="512.5" rx="2.1" ry="1.35" transform="rotate(74 875.8 512.5)"/>
      <ellipse cx="876.6" cy="515.3" rx="2.0" ry="0.55" transform="rotate(74 876.6 515.3)"/>
      <ellipse cx="877.4" cy="518.1" rx="2.1" ry="1.35" transform="rotate(74 877.4 518.1)"/>
      <ellipse cx="878.2" cy="520.9" rx="2.0" ry="0.55" transform="rotate(74 878.2 520.9)"/>
      <ellipse cx="879.0" cy="523.6" rx="2.1" ry="1.35" transform="rotate(74 879.0 523.6)"/>
      <ellipse cx="879.8" cy="526.4" rx="2.0" ry="0.55" transform="rotate(74 879.8 526.4)"/>
      <ellipse cx="880.6" cy="529.2" rx="2.1" ry="1.35" transform="rotate(74 880.6 529.2)"/>
      <ellipse cx="881.4" cy="532.0" rx="2.0" ry="0.55" transform="rotate(74 881.4 532.0)"/>
      <ellipse cx="882.2" cy="534.8" rx="2.1" ry="1.35" transform="rotate(74 882.2 534.8)"/>
      <ellipse cx="883.0" cy="537.6" rx="2.0" ry="0.55" transform="rotate(74 883.0 537.6)"/>
      <ellipse cx="883.8" cy="540.4" rx="2.1" ry="1.35" transform="rotate(74 883.8 540.4)"/>
      <ellipse cx="884.6" cy="543.2" rx="2.0" ry="0.55" transform="rotate(74 884.6 543.2)"/>
      <ellipse cx="885.4" cy="546.0" rx="2.1" ry="1.35" transform="rotate(74 885.4 546.0)"/>
      <ellipse cx="886.2" cy="548.8" rx="2.0" ry="0.55" transform="rotate(74 886.2 548.8)"/>
      <ellipse cx="887.0" cy="551.5" rx="2.1" ry="1.35" transform="rotate(74 887.0 551.5)"/>
      <ellipse cx="887.8" cy="554.3" rx="2.0" ry="0.55" transform="rotate(74 887.8 554.3)"/>
      <ellipse cx="888.6" cy="557.1" rx="2.1" ry="1.35" transform="rotate(74 888.6 557.1)"/>
      <ellipse cx="889.4" cy="559.9" rx="2.0" ry="0.55" transform="rotate(74 889.4 559.9)"/>
      <ellipse cx="890.2" cy="562.7" rx="2.1" ry="1.35" transform="rotate(74 890.2 562.7)"/>
      <ellipse cx="891.0" cy="565.5" rx="2.0" ry="0.55" transform="rotate(74 891.0 565.5)"/>
      <ellipse cx="891.8" cy="568.3" rx="2.1" ry="1.35" transform="rotate(74 891.8 568.3)"/>
      <ellipse cx="892.6" cy="571.1" rx="2.0" ry="0.55" transform="rotate(74 892.6 571.1)"/>
      <ellipse cx="893.4" cy="573.9" rx="2.1" ry="1.35" transform="rotate(74 893.4 573.9)"/>
      <ellipse cx="894.2" cy="576.7" rx="2.0" ry="0.55" transform="rotate(74 894.2 576.7)"/>
      <ellipse cx="895.0" cy="579.5" rx="2.1" ry="1.35" transform="rotate(74 895.0 579.5)"/>
      <ellipse cx="895.8" cy="582.2" rx="2.0" ry="0.55" transform="rotate(74 895.8 582.2)"/>
      <ellipse cx="896.6" cy="585.0" rx="2.1" ry="1.35" transform="rotate(74 896.6 585.0)"/>
      <ellipse cx="897.4" cy="587.8" rx="2.0" ry="0.55" transform="rotate(74 897.4 587.8)"/>
      <ellipse cx="898.2" cy="590.6" rx="2.1" ry="1.35" transform="rotate(74 898.2 590.6)"/>
      <ellipse cx="899.0" cy="593.4" rx="2.0" ry="0.55" transform="rotate(74 899.0 593.4)"/>
      <ellipse cx="899.8" cy="596.2" rx="2.1" ry="1.35" transform="rotate(74 899.8 596.2)"/>
    </g>
    <!-- arm -->
    <path fill="url(#armg)" d="M811.7 502.3 C811.4 504.0 810.0 509.6 809.6 512.7 C809.2 515.8 808.6 518.7 809.1 521 C809.6 523.3 811.1 524.2 812.7 526.3 C814.4 528.4 817.3 531.2 819 533.5 C820.7 535.8 822.1 537.5 823.1 539.8 C824.1 542.1 824.6 544.1 825.2 547.1 C825.8 550.1 826.2 553.7 826.8 557.5 C827.3 561.3 827.7 565.4 828.5 570 C829.3 574.6 830.4 580.0 831.5 585 C832.6 590.0 833.6 595.0 835.3 600 C837.0 605.0 839.3 610.3 841.7 615.2 C844.1 620.1 846.8 624.6 849.9 629.3 C853.0 634.0 856.8 639.0 860.5 643.3 C864.2 647.6 868.1 650.9 872.2 655 C876.3 659.1 881.1 663.8 885 667.9 C888.9 672.0 893.1 676.5 895.6 679.6 C898.1 682.7 899.0 688.3 900.3 686.7 C901.6 685.1 903.1 675.5 903.5 670 C903.9 664.5 903.1 657.0 902.6 653.9 C902.1 650.8 902.6 653.6 900.3 651.5 C898.0 649.4 892.5 644.7 888.6 641 C884.7 637.3 880.8 633.0 876.9 629.3 C873.0 625.6 868.3 622.2 865.1 618.7 C861.9 615.2 859.6 612.0 857.5 608.5 C855.4 605.0 853.8 601.8 852.5 598 C851.2 594.2 850.9 589.7 849.5 585.9 C848.1 582.1 845.6 579.7 844 575 C842.4 570.3 841.1 563.0 839.8 557.5 C838.5 552.0 837.1 547.1 836.1 541.9 C835.1 536.7 834.1 531.5 833.5 526.3 C832.9 521.1 832.8 515.1 832.5 510.6 C832.2 506.1 831.7 501.1 831.5 499.2 Z"/>
    
    <!-- beam -->
    <path fill="#2c2d32" d="M752.8 501.3 C755 498 760 495 768.4 493.4 L784.1 488 L799.7 484.1 L815.3 482.5 L830.9 480.9 L846.6 479.7 C852 479.8 855 480 857.5 480.9 L868.4 485.6 L877.8 490.3 L888.8 494.2 C891 495 892.7 496 892.7 497.3 C892.7 499 891.5 500 890.3 500.5 L880.9 503.6 L873.1 503.6 L862.2 501.3 L846.6 498.9 L832.5 498.1 L820 498.9 L807.5 501.3 L791.9 503.6 L776.3 506.7 L763.8 508.8 C759 509.2 756 508.5 755 507.8 C753.2 506.5 752.6 504 752.8 501.3 Z"/>
    <path fill="none" stroke="#3f4147" stroke-width="1" d="M775 499 L781 492 L787 499 L795 490 L801 497 L809 488 L815 495 L823 487 L829 494 L839 486 L845 493 L853 485 L861 492 L869 488"/>
    <g fill="#1a1b1e"><circle cx="782" cy="496" r="1"/><circle cx="798" cy="492" r="1"/><circle cx="812" cy="489" r="1"/><circle cx="842" cy="486" r="1"/><circle cx="856" cy="485" r="1"/><circle cx="766" cy="499" r="1"/></g>
    <!-- left pan -->
    <ellipse cx="764.4" cy="602.6" rx="28" ry="4.4" fill="#3c3d42"/>
    <path fill="url(#pang)" d="M736.5 603 C736.5 608 738 610 745 613.5 C752 618 758 620.1 764.4 620.1 C771 620.1 778 618 784 614.5 C790 611 792.4 608 792.4 603 C784 606.5 745 606.5 736.5 603 Z"/>
    <!-- right pan -->
    <ellipse cx="874.8" cy="600.4" rx="29.3" ry="4.4" fill="#3c3d42"/>
    <path fill="url(#pang)" d="M845.5 601 C845.5 606 848 608 855 612 C862 616.5 870 618.4 876 618.4 C883 618.4 890 616 896 612 C901 608.5 904.1 606 904.1 601 C895 604.5 855 604.5 845.5 601 Z"/>
    <!-- torso -->
    <path fill="url(#torg)" d="M902.8 654.2 C906.5 656 910.5 658.5 914.2 661 C918 664 921.5 667.5 925.5 670.2 C929 672.6 933 674.7 936.9 675.9 C940.5 676.9 944.5 677.2 948.3 677 L950.5 662 L973.5 662 L975.6 679.3 C979.5 682 983.3 685.5 987 688.4 C990.5 691.3 994.5 694 998.4 696.4 L999.5 697 L999.5 738 L907.3 738 C905.5 727 904 716 902.8 706.6 C901.5 699 900.2 691 899.4 683.8 C899 677 899 671 899.4 665.6 C900.3 661.5 901.4 657.5 902.8 654.2 Z"/>
    <!-- ponytail -->
    <path fill="#1f2024" d="M983 644 C987 646 987.5 652 985 658 C983 664 981.5 670 980 681.6 C977.5 676 977 668 977.5 661 C978 654 980 648 983 644 Z"/>
    <!-- neck -->
    <path fill="#34363d" d="M951 656 L950.6 662 C950 667 949.3 671 948.3 675.5 L975.8 678 C975 673 974 668 973.6 663 L973.4 656 Z"/>
    <path fill="#41444e" opacity="0.8" d="M951 660 C951 668 950 673 948 678 L956 679 C955 672 955 665 956 659 Z"/>
    <g transform="translate(968.8 583.7) scale(1.05) translate(-968.8 -583.7)">
    <!-- head -->
    <path fill="url(#faceg)" d="M968.8 583.7 C963 583.8 959 585 955.1 587.1 C951 589.5 948 592 946 595 C944 598.5 942.8 602.5 942.6 606.4 C942.4 610 943 614 943.8 617.8 C944.3 621 944.7 624 944.9 626.9 C945.2 631 945.5 634.5 946 638.3 C946.5 641.5 947.3 644.5 948.3 647.4 C949.5 650.5 951 653 952.9 655.4 C955 657.6 957.3 659.3 959.7 659.9 C962 660.2 964.3 659.8 966.5 658.8 C969 657.6 971.4 656 973.4 654.2 C976 651.5 978.4 648.5 980.2 645.1 C982 642 983.5 639 984.7 636 C986.5 637 988 637.8 989.3 638.3 C990.6 635.5 991.3 632.5 991.6 629.2 C992.8 624.5 993.6 620 993.8 615.5 C993.9 610.5 993.6 606 992.7 601.9 C991.5 598 989.5 594.5 987 591.6 C984.2 589 981.2 587.2 977.9 585.9 C975 584.5 972 583.8 968.8 583.7 Z"/>
    <!-- hair -->
    <path fill="#2c2e34" d="M942.8 606 C943 597 949 588.5 960 585 C967 583 975 583.5 982 587 C989 590.5 993.5 597 994.2 606 C990 603 982 601 969 600.5 C957 600.5 948 602.5 942.8 606 Z"/>
    <path fill="none" stroke="#4a4d56" stroke-width="0.8" opacity="0.9" d="M946 600 C950 592 957 588 965 587 M948 603 C953 594 961 590 970 589.5 M952 602 C958 595 966 592 975 592.5 M958 601 C965 596 973 595 981 596.5 M966 600.5 C973 598 981 598.5 988 600.5 M975 600.5 C981 600 987 601.5 992 603.5"/>
    <!-- blindfold -->
    <path fill="#3b3e47" opacity="0.85" d="M942.9 607.5 C958 605 978 605.5 994 608 L994.3 621 C978 619 958 619.5 943.8 623 Z"/>
    <path fill="none" stroke="#2a2c31" stroke-width="0.7" d="M943.2 611.5 C960 609 978 609.5 994.2 611.5 M943.5 615.2 C960 612.8 978 613.3 994.3 615 M943.7 619 C960 616.6 978 617 994.3 618.5"/>
    <path fill="none" stroke="#555965" stroke-width="0.6" opacity="0.8" d="M943.2 609.5 C955 607.5 965 607.3 975 607.6 M943.4 613.4 C955 611.3 965 611.1 975 611.4 M943.6 617.1 C955 615 965 614.8 975 615.1"/>
    <!-- face features -->
    <path fill="#50545f" opacity="0.55" d="M946 626 C950 624 956 625 958 630 C960 637 959 645 956 651 C952 654 948 651 947 646 C945.5 640 945.5 632 946 626 Z"/>
    <path fill="#1e1f23" opacity="0.7" d="M961 629 C963 635 964 640 962.5 643 C961 642 960 640 960 637 Z"/>
    <path fill="#555967" opacity="0.6" d="M957.5 630 C959 635 959.5 639 958.5 642.5 L961 642.5 C960.5 638 960 634 957.5 630 Z"/>
    <path fill="none" stroke="#1b1c20" stroke-width="0.9" d="M953.5 647.8 C956 648.6 959 648.6 962 647.5"/>
    </g>
    <!-- torso highlights -->
    <g filter="url(#soft)">
    <path fill="#5f6370" opacity="0.5" d="M915 700 C925 694 940 696 948 706 C950 716 945 726 935 731 C924 733 915 727 913 716 C912 709 913 704 915 700 Z"/>
    <path fill="#5f6370" opacity="0.45" d="M962 704 C972 700 985 702 993 710 C996 718 993 727 985 731 C975 733 966 728 962 720 C960 714 960 708 962 704 Z"/>
    <path fill="#5f6370" opacity="0.4" d="M940 680 C950 679 962 681 970 686 C966 692 955 694 946 691 C941 689 939 685 940 680 Z"/>
    </g>
    <!-- drape folds -->
    <path fill="#4d505b" opacity="0.6" d="M902.6 654 C905 660 906 670 905.5 685 C905 700 906 715 908.5 737 L912 737 C909.5 715 909 698 909.5 684 C910 670 908 660 904.5 654.5 Z"/>
    <path fill="none" stroke="#4d505b" stroke-width="1.3" opacity="0.8" d="M913 662 C920 680 932 695 948 705 C955 710 962 716 968 722 M918 712 C925 706 935 705 945 709 M935 737 C937 727 941 721 948 716 M960 737 C960 728 958 720 952 713 M968 712 C978 712 988 716 996 724"/>
  </g>
</svg>

<!-- website pill -->
<div class="a" style="left:687.7px;top:730.3px;width:215px;height:34px;background:#ffaa5e;border:2px solid #232323;border-radius:9px"></div>

<svg class="a" style="left:713px;top:740px" width="17" height="16" viewBox="713 740 17 16">
  <g fill="none" stroke="#2a2a2a" stroke-width="0.9">
    <circle cx="721.2" cy="747.7" r="6.7"/>
    <ellipse cx="721.2" cy="747.7" rx="3" ry="6.7"/>
    <path d="M721.2 741 V754.4 M714.5 747.7 H727.9 M715.4 744.4 H727 M715.4 751 H727"/>
  </g>
</svg>
<div class="t" id="w1" style="left:738.31px;top:740.1px;font-size:14.77px;color:#222;-webkit-text-stroke:0.25px #222;transform:scaleX(1.1075)">www.arcourt.mn</div>
</body>
</html>
